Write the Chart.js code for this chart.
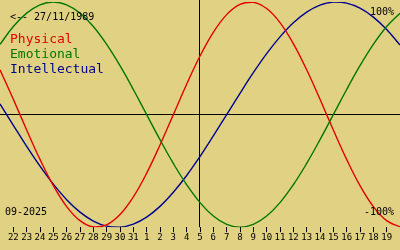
<!DOCTYPE html>
<html>
<head>
<meta charset="utf-8">
<script src="https://cdn.jsdelivr.net/npm/chart.js@4/dist/chart.umd.min.js"></script>
<style>
  body { margin: 0; background: #e0d282; }
  canvas { display: block; }
</style>
</head>
<body>
<canvas id="chart" width="400" height="250"></canvas>
<script>
// days from 21 Aug to 20 Sep 2025, one point per day
const days = ['21', '22', '23', '24', '25', '26', '27', '28', '29', '30', '31',
    '1', '2', '3', '4', '5', '6', '7', '8', '9', '10',
    '11', '12', '13', '14', '15', '16', '17', '18', '19', '20'];

const physical = [0.398, 0.136, -0.136, -0.398, -0.631, -0.817, -0.942, -0.998, -0.979, -0.888,
    -0.731, -0.520, -0.270, 0, 0.270, 0.520, 0.731, 0.888, 0.979, 0.998,
    0.942, 0.817, 0.631, 0.398, 0.136, -0.136, -0.398, -0.631, -0.817, -0.942, -0.998];

const emotional = [0.623, 0.782, 0.901, 0.975, 1, 0.975, 0.901, 0.782, 0.623, 0.434,
    0.223, 0, -0.223, -0.434, -0.623, -0.782, -0.901, -0.975, -1, -0.975,
    -0.901, -0.782, -0.623, -0.434, -0.223, 0, 0.223, 0.434, 0.623, 0.782, 0.901];

const intellectual = [0.095, -0.095, -0.282, -0.458, -0.618, -0.756, -0.866, -0.945, -0.990, -0.999,
    -0.972, -0.910, -0.815, -0.690, -0.541, -0.372, -0.189, 0, 0.189, 0.372,
    0.541, 0.690, 0.815, 0.910, 0.972, 0.999, 0.990, 0.945, 0.866, 0.756, 0.618];

const todayIndex = 15;
const birthText = '<-- 27/11/1989';
const monthText = '09-2025';
const seriesNames = ['Physical', 'Emotional', 'Intellectual'];
const seriesColors = ['rgb(228,0,0)', 'rgb(0,120,0)', 'rgb(0,0,145)'];

const mono = '"DejaVu Sans Mono", monospace';

// axes cross + texts
const overlay = {
    id: 'overlay',
    beforeDatasetsDraw(chart) {
        const ctx = chart.ctx;
        const x = chart.scales.x, y = chart.scales.y;
        const area = chart.chartArea;
        ctx.save();
        ctx.strokeStyle = '#000';
        ctx.lineWidth = 1;
        ctx.beginPath();
        let y0 = Math.round(y.getPixelForValue(0)) - 0.5;
        ctx.moveTo(area.left, y0);
        ctx.lineTo(area.right, y0);
        let x0 = Math.round(x.getPixelForValue(todayIndex)) - 0.5;
        ctx.moveTo(x0, 0);
        ctx.lineTo(x0, area.bottom);
        ctx.stroke();
        ctx.restore();
    },
    afterDatasetsDraw(chart) {
        const ctx = chart.ctx;
        ctx.save();
        ctx.textBaseline = 'middle';
        ctx.fillStyle = '#000';
        ctx.font = '10px ' + mono;
        ctx.textAlign = 'left';
        ctx.fillText(birthText, 10, 17);
        ctx.fillText(monthText, 5, 212);
        ctx.textAlign = 'right';
        ctx.fillText('100%', 394, 12);
        ctx.fillText('-100%', 394, 212);
        ctx.textAlign = 'left';
        ctx.textBaseline = 'alphabetic';
        ctx.font = '13px ' + mono;
        for (let i = 0; i < seriesNames.length; i++) {
            ctx.fillStyle = seriesColors[i];
            ctx.fillText(seriesNames[i], 10, 43 + i * 15);
        }
        ctx.restore();
    }
};

function makeSet(label, values, color) {
    return {
        label: label,
        data: values.map((v, i) => ({ x: i, y: v })),
        borderColor: color,
        borderWidth: 1.4,
        pointRadius: 0,
        tension: 0.4,
        fill: false
    };
}

var ctx = document.getElementById('chart').getContext('2d');
var mychart = new Chart(ctx, {
    type: 'line',
    data: {
        datasets: [
            makeSet(seriesNames[0], physical, seriesColors[0]),
            makeSet(seriesNames[1], emotional, seriesColors[1]),
            makeSet(seriesNames[2], intellectual, seriesColors[2])
        ]
    },
    plugins: [overlay],
    options: {
        responsive: false,
        animation: false,
        events: [],
        layout: { padding: { top: 2, bottom: 7, left: 0, right: 0 } },
        plugins: { legend: { display: false }, tooltip: { enabled: false } },
        scales: {
            x: {
                type: 'linear',
                min: 0,
                max: days.length - 1,
                afterBuildTicks: (axis) => {
                    let t = [];
                    for (let i = 1; i < days.length - 1; i++) t.push({ value: i });
                    axis.ticks = t;
                },
                border: { display: false },
                grid: { drawOnChartArea: false, drawTicks: true, tickLength: 5, color: '#000', lineWidth: 1 },
                ticks: {
                    autoSkip: false,
                    maxRotation: 0,
                    minRotation: 0,
                    padding: 0,
                    color: '#000',
                    font: { family: mono, size: 9 },
                    callback: (v) => days[v]
                }
            },
            y: {
                display: false,
                min: -1,
                max: 1
            }
        }
    }
});
</script>
</body>
</html>
